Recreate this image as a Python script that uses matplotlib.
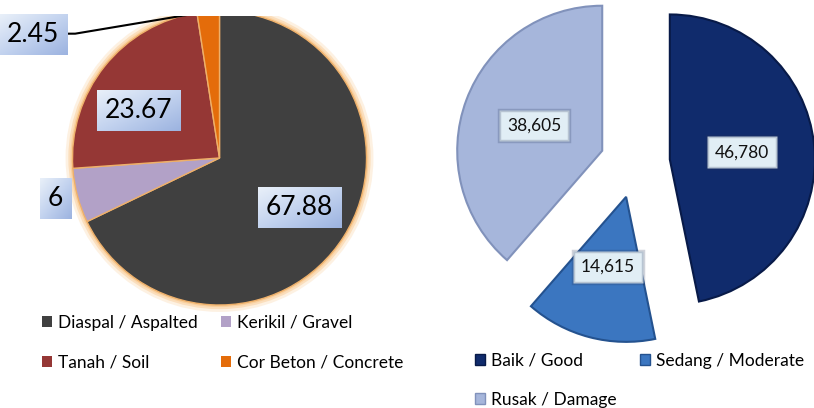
import numpy as np
import matplotlib
matplotlib.use("Agg")
import matplotlib.pyplot as plt
from matplotlib.patches import Patch, Circle
from matplotlib.colors import LinearSegmentedColormap

plt.rcParams['font.family'] = ['Lato', 'DejaVu Sans']

# ---------------- data ----------------
surface_labels = ["Diaspal / Aspalted", "Kerikil / Gravel", "Tanah / Soil", "Cor Beton / Concrete"]
surface_values = [67.88, 6, 23.67, 2.45]
surface_text = ["67.88", "6", "23.67", "2.45"]
surface_colors = ["#404040", "#b2a1c7", "#953735", "#e46c0a"]

cond_labels = ["Baik / Good", "Sedang / Moderate", "Rusak / Damage"]
cond_values = [46780, 14615, 38605]
cond_colors = ["#102b6c", "#3b76c0", "#a6b6db"]
cond_edges = ["#081a48", "#24528f", "#8192bb"]

W, H = 814, 408
fig = plt.figure(figsize=(W / 100, H / 100), dpi=100)

# ---------------- left pie ----------------
topclip = 16
axL = fig.add_axes([0, 0, 420 / W, (H - topclip) / H])
cL = (219.5, H - 158)
rL = 147
# glow ring
for lw, a in [(10, 0.25), (6, 0.45), (3, 0.7)]:
    axL.add_patch(Circle(cL, rL, facecolor='none', edgecolor='#f9c98f', lw=lw, alpha=a,
                         zorder=1, clip_on=True))
wL, _ = axL.pie(surface_values, colors=surface_colors, startangle=90, counterclock=False,
                radius=rL, center=cL, frame=True,
                wedgeprops=dict(edgecolor='#eeb06a', linewidth=1.0))
for w in wL:
    w.set_zorder(2)
    w.set_clip_on(True)
    w.set_clip_path(axL.patch)

# label placement (fraction of radius, angle in degrees)
label_pos = [(0.64, -31.5), (1.15, 194), (0.64, 149.5), (1.52, 146.5)]
tL = []
for txt, (fr, ang) in zip(surface_text, label_pos):
    x = cL[0] + fr * rL * np.cos(np.radians(ang))
    y = cL[1] + fr * rL * np.sin(np.radians(ang))
    t = axL.text(x, y, txt, ha='center', va='center', fontsize=19, color='black', zorder=6,
                 bbox=dict(boxstyle='square,pad=0.3', facecolor='none', edgecolor='none'))
    tL.append(t)

# leader line for the small slice
w = wL[3]
thm = np.radians(0.5 * (w.theta1 + w.theta2))
edge = (cL[0] + rL * np.cos(thm), cL[1] + rL * np.sin(thm))
ann = axL.annotate("", xy=edge, xytext=(tL[3].get_position()[0] + 33, tL[3].get_position()[1] + 1),
                   annotation_clip=False,
                   arrowprops=dict(arrowstyle='-', color='black', lw=1.5, shrinkA=0, shrinkB=0,
                                   connectionstyle='arc,angleA=0,armA=9,angleB=0,armB=0,rad=0'))
ann.arrow_patch.set_clip_on(True)
ann.arrow_patch.set_clip_box(axL.bbox)

axL.set_xlim(0, 420)
axL.set_ylim(0, H - topclip)
axL.axis('off')

legL = [Patch(facecolor=c, edgecolor='none') for c in surface_colors]
order = [0, 2, 1, 3]
axL.legend([legL[i] for i in order], [surface_labels[i] for i in order], ncol=2,
           loc='upper left', bbox_to_anchor=(35 / W, 1 - 308 / H), bbox_transform=fig.transFigure,
           frameon=False, fontsize=12.5, handlelength=0.6, handleheight=0.6,
           handletextpad=0.35, columnspacing=1.3, labelspacing=1.35, borderaxespad=0)

# ---------------- right pie ----------------
axR = fig.add_axes([420 / W, 0, 394 / W, 1])
cR = (635, H - 163)
rR = 145
wR, _, atR = axR.pie(cond_values, colors=cond_colors, startangle=90, counterclock=False,
                     radius=rR, center=cR, explode=[35, 35, 35], frame=True,
                     autopct='%1.0f', pctdistance=0.5,
                     wedgeprops=dict(linewidth=1.5),
                     textprops=dict(fontsize=12.5, color='#111111'))
for w, ec in zip(wR, cond_edges):
    w.set_edgecolor(ec)
for t, v in zip(atR, cond_values):
    t.set_text(f"{v:,}")
    t.set_zorder(6)
    t.set_bbox(dict(boxstyle='square,pad=0.45', facecolor='#e1eef5',
                    edgecolor=(0.15, 0.2, 0.35, 0.22), linewidth=2.5))
axR.set_xlim(420, W)
axR.set_ylim(0, H)
axR.axis('off')

legR = [Patch(facecolor=c, edgecolor=e, linewidth=1) for c, e in zip(cond_colors, cond_edges)]
orderR = [0, 2, 1]
axR.legend([legR[i] for i in orderR], [cond_labels[i] for i in orderR], ncol=2,
           loc='upper left', bbox_to_anchor=(468 / W, 1 - 346 / H), bbox_transform=fig.transFigure,
           frameon=False, fontsize=12.5, handlelength=0.6, handleheight=0.6,
           handletextpad=0.35, columnspacing=1.3, labelspacing=1.3, borderaxespad=0)

# ---------------- gradient label boxes (left) ----------------
fig.canvas.draw()
cmap = LinearSegmentedColormap.from_list('g', ['#e9f0f9', '#c3d3ef', '#9cb3e0'])
inv = axL.transData.inverted()
yy, xx = np.mgrid[0:1:50j, 0:1:80j]
grad = (xx + yy) / 2
for t in tL:
    bb = t.get_bbox_patch().get_window_extent()
    (x0, y0), (x1, y1) = inv.transform([[bb.x0, bb.y0], [bb.x1, bb.y1]])
    axL.imshow(grad, extent=(x0, x1, y0, y1), origin='upper', cmap=cmap, aspect='auto',
               zorder=5, clip_on=False, interpolation='bilinear')
axL.set_xlim(0, 420)
axL.set_ylim(0, H - topclip)

fig.savefig('out.png', dpi=100)
